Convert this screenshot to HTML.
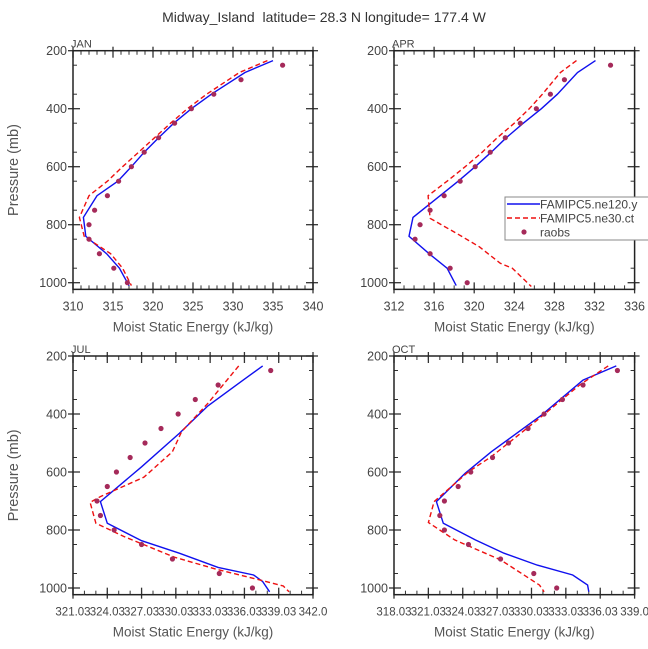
<!DOCTYPE html>
<html><head><meta charset="utf-8">
<style>
html,body{margin:0;padding:0;background:#fff;}
svg{display:block;font-family:"Liberation Sans",sans-serif;}
</style></head>
<body>
<svg id="chart" width="648" height="649" viewBox="0 0 648 649" xmlns="http://www.w3.org/2000/svg">
<text x="324" y="22" text-anchor="middle" font-size="14" fill="#333" xml:space="preserve">Midway_Island  latitude= 28.3 N longitude= 177.4 W</text>
</svg>
<script>
// pressure levels
const obsP = [250,300,350,400,450,500,550,600,650,700,750,800,850,900,950,1000];
// JAN
const janBlueP = [234,275,350,400,450,500,550,600,650,700,775,840,900,950,1010];
const janBlue  = [335.0,331.5,327.3,324.8,322.6,320.7,318.9,317.3,315.6,313.0,311.3,311.6,314.2,315.8,317.0];
const janRedP  = [234,275,350,400,450,500,550,600,650,700,775,840,900,950,1010];
const janRed   = [334.3,330.8,326.7,324.3,322.2,320.2,318.2,316.2,314.3,312.0,310.8,311.4,314.7,316.2,317.3];
const janObs   = [336.2,331.0,327.6,324.8,322.7,320.7,318.9,317.3,315.7,314.3,312.7,312.0,312.0,313.3,315.1,316.8];
// APR
const aprBlueP = [234,275,350,400,450,500,550,600,650,700,775,840,900,950,1010];
const aprBlue  = [332.1,330.3,328.3,326.7,324.9,323.2,321.7,320.1,318.4,316.6,313.9,313.5,315.5,317.3,318.2];
const aprRedP  = [234,275,350,400,450,500,550,600,650,700,778,833,876,933,950,1013];
const aprRed   = [330.2,328.6,326.8,325.5,324.0,322.3,320.8,319.1,317.3,315.4,315.6,318.4,320.5,322.6,323.8,325.7];
const aprObs   = [333.6,329.0,327.6,326.2,324.6,323.1,321.6,320.1,318.6,317.0,315.6,314.6,314.1,315.6,317.6,319.3];
// JUL
const julBlueP = [234,277,372,467,582,702,777,837,880,929,955,978,1013];
const julBlue  = [337.6,336.1,332.8,330.3,327.0,323.4,324.0,327.0,330.3,333.7,336.8,337.6,338.2];
const julRedP  = [234,363,461,530,618,685,705,777,823,894,936,967,993,1013];
const julRed   = [335.5,332.8,330.5,329.7,327.2,323.4,322.5,323.0,325.5,329.9,333.6,336.8,339.4,339.9];
const julObs   = [338.3,333.7,331.7,330.2,328.7,327.3,326.0,324.8,324.0,323.1,323.4,324.6,327.0,329.7,333.8,336.7];
// OCT
const octBlueP = [234,283,403,530,605,702,777,834,880,921,955,990,1013];
const octBlue  = [337.4,334.5,330.9,326.5,324.2,321.7,322.3,325.1,327.6,330.5,333.6,334.9,335.0];
const octRedP  = [234,300,421,547,599,702,774,834,903,967,990,1013];
const octRed   = [336.7,334.2,330.5,326.5,324.5,321.5,321.0,323.3,327.3,329.8,330.7,331.1];
const octObs   = [337.5,334.5,332.7,331.1,329.7,328.0,326.6,324.7,323.6,322.4,322.0,322.4,324.5,327.3,330.2,332.2];
// axis ranges & ticks
const yTicks = [200,400,600,800,1000];
const janXTicks = [310,315,320,325,330,335,340];
const aprXTicks = [312,316,320,324,328,332,336];
const julXTicks = [321,324,327,330,333,336,339,342];
const julXLabels = ["321.03","324.03","327.03","330.03","333.03","336.03","339.03","342.0"];
const octXTicks = [318,321,324,327,330,333,336,339];
const octXLabels = ["318.03","321.03","324.03","327.03","330.03","333.03","336.03","339.0"];

const svg = document.getElementById('chart');
const NS = 'http://www.w3.org/2000/svg';
function mk(tag, attrs, parent){const e=document.createElementNS(NS,tag);for(const k in attrs)e.setAttribute(k,attrs[k]);(parent||svg).appendChild(e);return e;}

function panel(cfg){
  const g = mk('g',{});
  
  
  const x0=cfg.x0,x1=cfg.x1,yt=cfg.yt,y1000=cfg.y1000;
  const ky=(y1000-yt)/800;
  const yb=yt+823*ky;
  const X=v=>x0+(v-cfg.xmin)/(cfg.xmax-cfg.xmin)*(x1-x0);
  const Y=p=>yt+(p-200)*ky;
  for(let v=cfg.xmin; v<=cfg.xmax+1e-6; v+=cfg.minor){
    mk('line',{x1:X(v),x2:X(v),y1:yb,y2:yb-4,stroke:'#333','stroke-width':1},g);
    mk('line',{x1:X(v),x2:X(v),y1:yt,y2:yt+4,stroke:'#333','stroke-width':1},g);
  }
  for(let p=250;p<1000;p+=100){
    mk('line',{x1:x0,x2:x0+4,y1:Y(p),y2:Y(p),stroke:'#333','stroke-width':1},g);
    mk('line',{x1:x1,x2:x1-4,y1:Y(p),y2:Y(p),stroke:'#333','stroke-width':1},g);
  }
  cfg.xt.forEach((v,i)=>{
    mk('line',{x1:X(v),x2:X(v),y1:yb+4,y2:yb-7,stroke:'#333','stroke-width':1.3},g);
    mk('line',{x1:X(v),x2:X(v),y1:yt-4,y2:yt+7,stroke:'#333','stroke-width':1.3},g);
    const lbl = cfg.xl ? cfg.xl[i] : String(v);
    const t=mk('text',{x:X(v),y:yb+21,'text-anchor':'middle','font-size':cfg.xl?11.5:12.5,fill:'#444'},g);
    
    
    t.textContent = lbl;
  });
  yTicks.forEach(p=>{
    mk('line',{x1:x0-5,x2:x0+7,y1:Y(p),y2:Y(p),stroke:'#333','stroke-width':1.3},g);
    mk('line',{x1:x1+5,x2:x1-7,y1:Y(p),y2:Y(p),stroke:'#333','stroke-width':1.3},g);
    const t=mk('text',{x:x0-6,y:Y(p)+4.5,'text-anchor':'end','font-size':12.5,fill:'#444'},g);
    
    
    t.textContent=p;
  });
  const fr=mk('rect',{x:x0,y:yt,width:x1-x0,height:yb-yt,fill:'none',stroke:'#222','stroke-width':1.5},g);
  
  
  const lab=mk('text',{x:x0-2,y:yt-3,'font-size':11,fill:'#444'},g);
  
  
  lab.textContent=cfg.label;
  const xt=mk('text',{x:(x0+x1)/2,y:yb+42,'text-anchor':'middle','font-size':13.5,fill:'#555'},g);
  
  
  xt.textContent='Moist Static Energy (kJ/kg)';
  if(cfg.ytitle){
    const cy=(yt+yb)/2;
    const ytt=mk('text',{x:18,y:cy,'text-anchor':'middle','font-size':14.5,fill:'#555',transform:'rotate(-90 18 '+cy+')'},g);
    
    
    ytt.textContent='Pressure (mb)';
  }
  const pts=(ps,vs)=>ps.map((p,i)=>X(vs[i]).toFixed(1)+','+Y(p).toFixed(1)).join(' ');
  const b=mk('polyline',{points:pts(cfg.bp,cfg.b),fill:'none',stroke:'#1010ee','stroke-width':1.4},g);
  
  
  const r=mk('polyline',{points:pts(cfg.rp,cfg.r),fill:'none',stroke:'#ee1010','stroke-width':1.4,'stroke-dasharray':'5,3'},g);
  
  
  obsP.forEach((p,i)=>{
    const c=mk('circle',{cx:X(cfg.o[i]),cy:Y(p),r:2.6,fill:'#a52a5a'},g);
    
    
  });
}
const L=73,R=313,L2=394,R2=634.6;
panel({name:'jan',label:'JAN',x0:L,x1:R,yt:50.7,y1000:282.7,xmin:310,xmax:340,minor:1,xt:janXTicks,ytitle:true,bp:janBlueP,b:janBlue,rp:janRedP,r:janRed,o:janObs});
panel({name:'apr',label:'APR',x0:L2,x1:R2,yt:50.7,y1000:282.7,xmin:312,xmax:336,minor:1,xt:aprXTicks,bp:aprBlueP,b:aprBlue,rp:aprRedP,r:aprRed,o:aprObs});
panel({name:'jul',label:'JUL',x0:L,x1:R,yt:356,y1000:588,xmin:321,xmax:342,minor:1,xt:julXTicks,xl:julXLabels,ytitle:true,bp:julBlueP,b:julBlue,rp:julRedP,r:julRed,o:julObs});
panel({name:'oct',label:'OCT',x0:L2,x1:R2,yt:356,y1000:588,xmin:318,xmax:339,minor:1,xt:octXTicks,xl:octXLabels,bp:octBlueP,b:octBlue,rp:octRedP,r:octRed,o:octObs});

const lg=mk('g',{});


mk('rect',{x:505,y:197,width:150,height:43,fill:'#fff',stroke:'#888','stroke-width':1},lg);
const items=[['FAMIPC5.ne120.y','#1010ee',null],['FAMIPC5.ne30.ct','#ee1010','5,3'],['raobs','#a52a5a','dot']];
items.forEach((it,i)=>{
  const y=204+i*14;
  const e=mk('g',{},lg);
  
  
  if(it[2]==='dot') mk('circle',{cx:524,cy:y,r:2.6,fill:it[1]},e);
  else { const a={x1:507,x2:540,y1:y,y2:y,stroke:it[1],'stroke-width':1.4}; if(it[2])a['stroke-dasharray']=it[2]; mk('line',a,e); }
  const t=mk('text',{x:540,y:y+4.5,'font-size':12,fill:'#444'},e);
  t.textContent=it[0];
});
</script>
</body></html>
